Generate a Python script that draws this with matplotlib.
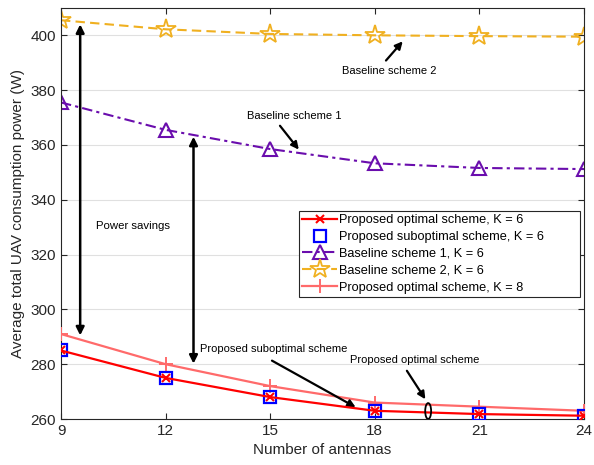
import matplotlib
matplotlib.use("Agg")
import matplotlib.pyplot as plt
from matplotlib.patches import Ellipse

plt.rcParams['font.family'] = ['Liberation Sans', 'DejaVu Sans']

antennas = [9, 12, 15, 18, 21, 24]
opt_k6 = [285, 275, 268, 263, 261.8, 261.2]
subopt_k6 = [285, 275, 268, 263, 261.8, 261.2]
base1_k6 = [375.5, 365.5, 358.5, 353.3, 351.6, 351.2]
base2_k6 = [405.5, 402.2, 400.5, 400.0, 399.7, 399.5]
opt_k8 = [291, 280, 272, 266, 264.5, 263]

xticks = [9, 12, 15, 18, 21, 24]
yticks = [260, 280, 300, 320, 340, 360, 380, 400]

fig = plt.figure(figsize=(5.94, 4.65), dpi=100)
ax = fig.add_axes([0.1027, 0.0989, 0.8805, 0.8841])

ax.plot(antennas, opt_k6, color='#ff0000', lw=1.6, marker='x', ms=6, mew=1.5,
        label='Proposed optimal scheme, K = 6', zorder=5)
ax.plot(antennas, subopt_k6, color='#0000ff', lw=0, marker='s', ms=8, mew=1.6,
        mfc='none', label='Proposed suboptimal scheme, K = 6', zorder=4)
ax.plot(antennas, base1_k6, color='#6a0dad', lw=1.5, ls=(0, (5, 2, 1.5, 2)), marker='^',
        ms=10, mew=1.5, mfc='none', label='Baseline scheme 1, K = 6')
ax.plot(antennas, base2_k6, color='#f0b020', lw=1.5, ls=(0, (4.5, 2.5)), marker='*',
        ms=15, mew=1.3, mfc='none', label='Baseline scheme 2, K = 6')
ax.plot(antennas, opt_k8, color='#ff6a6a', lw=1.6, marker='+', ms=10, mew=1.4,
        label='Proposed optimal scheme, K = 8', zorder=3)

ax.set_xlim(9, 24)
ax.set_ylim(260, 410)
ax.set_xticks(xticks)
ax.set_yticks(yticks)
ax.yaxis.grid(True, color='#e0e0e0', lw=0.8)
ax.set_axisbelow(True)
ax.tick_params(direction='in', top=True, right=True, labelsize=11, colors='#262626', length=4)
for s in ax.spines.values():
    s.set_color('#262626')
    s.set_linewidth(0.8)
ax.set_xlabel('Number of antennas', fontsize=11, color='#262626')
ax.set_ylabel('Average total UAV consumption power (W)', fontsize=11, color='#262626')

arr = dict(arrowstyle='<|-|>', color='black', lw=1.8, mutation_scale=12,
           shrinkA=0, shrinkB=0)
ax.annotate('', xy=(9.55, 404), xytext=(9.55, 290.5), arrowprops=arr)
ax.annotate('', xy=(12.8, 363), xytext=(12.8, 280.2), arrowprops=arr)
ax.text(10.0, 330.5, 'Power savings', fontsize=8.2, ha='left', va='center')

one = dict(arrowstyle='-|>', color='black', lw=1.6, mutation_scale=11, shrinkA=0, shrinkB=0)
ax.text(18.42, 387, 'Baseline scheme 2', fontsize=8, ha='center', va='center')
ax.annotate('', xy=(18.8, 397.8), xytext=(18.32, 390.8), arrowprops=one)
ax.text(15.7, 370.6, 'Baseline scheme 1', fontsize=8, ha='center', va='center')
ax.annotate('', xy=(15.82, 358.3), xytext=(15.28, 367.0), arrowprops=one)
ax.text(15.1, 285.6, 'Proposed suboptimal scheme', fontsize=8, ha='center', va='center')
ax.annotate('', xy=(17.45, 264.3), xytext=(15.05, 281.3), arrowprops=one)
ax.text(19.15, 281.6, 'Proposed optimal scheme', fontsize=8, ha='center', va='center')
ax.annotate('', xy=(19.45, 267.2), xytext=(18.92, 277.6), arrowprops=one)
ax.add_patch(Ellipse((19.53, 262.9), 0.17, 5.8, fill=False, ec='black', lw=1.3, zorder=6))

leg = ax.legend(loc='upper left', bbox_to_anchor=(0.455, 0.30, 0.537, 0.206), mode='expand',
                fontsize=9.2, frameon=True, fancybox=False, edgecolor='#262626', framealpha=1,
                borderpad=0.25, labelspacing=0.38, handlelength=2.75, handletextpad=0.15,
                borderaxespad=0)
leg.get_frame().set_linewidth(0.8)

fig.savefig('out.png', dpi=100)
